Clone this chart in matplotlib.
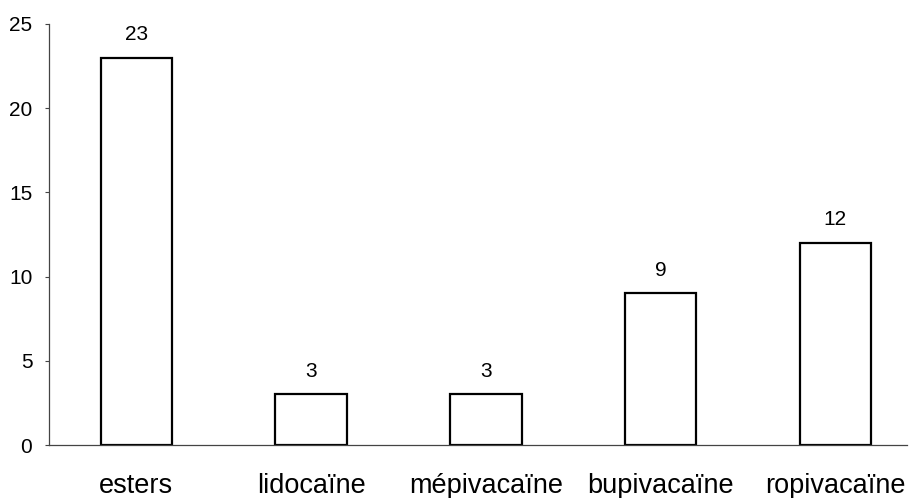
import numpy as np
import matplotlib.pyplot as plt

plt.rcParams['font.family'] = ['Liberation Sans', 'DejaVu Sans']

categories = ['esters', 'lidocaïne', 'mépivacaïne', 'bupivacaïne', 'ropivacaïne']
counts = [23, 3, 3, 9, 12]
y_ticks = [0, 5, 10, 15, 20, 25]

fig = plt.figure(figsize=(9.09, 4.98), dpi=100)
ax = fig.add_axes([49 / 909, 1 - 445 / 498, 858 / 909, 421 / 498])

x = np.arange(len(categories))
bars = ax.bar(x, counts, width=0.41, color='white', edgecolor='black', linewidth=1.6)

for xi, v in zip(x, counts):
    ax.annotate(str(v), (xi, v), xytext=(0, 10), textcoords='offset points',
                ha='center', va='bottom', fontsize=15)

ax.set_xlim(-0.5, 4.41)
ax.set_ylim(0, 25)
ax.set_yticks(y_ticks)
ax.set_xticks(x)
ax.set_xticklabels(categories, fontsize=19.5)
ax.tick_params(axis='x', length=0, pad=20)
ax.tick_params(axis='y', length=3, width=0.8, pad=9, labelsize=15, color='#444444')

for s in ['top', 'right']:
    ax.spines[s].set_visible(False)
ax.spines['left'].set_color('#444444')
ax.spines['bottom'].set_color('#444444')
ax.spines['left'].set_linewidth(0.9)
ax.spines['bottom'].set_linewidth(0.9)

fig.savefig('out.png', dpi=100)
